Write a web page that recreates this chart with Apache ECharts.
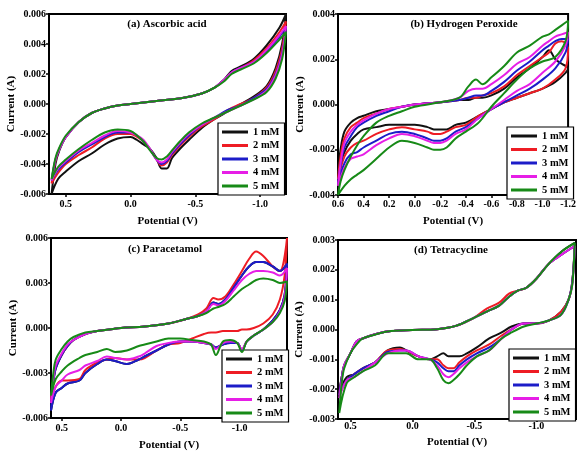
<!DOCTYPE html>
<html><head><meta charset="utf-8">
<script src="https://cdn.jsdelivr.net/npm/echarts@6/dist/echarts.min.js"></script>
<style>html,body{margin:0;padding:0;background:#fff}#c{width:579px;height:452px}</style>
</head><body><div id="c"></div>
<script>
// ---------- DATA ----------
const concentrations = ['1 mM', '2 mM', '3 mM', '4 mM', '5 mM'];
const panelTitles = ['(a) Ascorbic acid', '(b) Hydrogen Peroxide', '(c) Paracetamol', '(d) Tetracycline'];

// tick labels
const aXTicks = [0.5, 0.0, -0.5, -1.0];
const aYTicks = [-0.006, -0.004, -0.002, 0.000, 0.002, 0.004, 0.006];
const bXTicks = [0.6, 0.4, 0.2, 0.0, -0.2, -0.4, -0.6, -0.8, -1.0, -1.2];
const bYTicks = [-0.004, -0.002, 0.000, 0.002, 0.004];
const cXTicks = [0.5, 0.0, -0.5, -1.0];
const cYTicks = [-0.006, -0.003, 0.000, 0.003, 0.006];
const dXTicks = [0.5, 0.0, -0.5, -1.0];
const dYTicks = [-0.003, -0.002, -0.001, 0.000, 0.001, 0.002, 0.003];

// (a) Ascorbic acid — potential (V) along the closed CV loop
const aPotential = [0.61, 0.58, 0.55, 0.5, 0.4, 0.3, 0.2, 0.1, 0.0, -0.2, -0.4, -0.55, -0.65, -0.72, -0.78, -0.85, -0.95, -1.05, -1.15, -1.2,
  -1.17, -1.12, -1.05, -0.95, -0.85, -0.75, -0.65, -0.55, -0.45, -0.38, -0.32, -0.28, -0.24, -0.2, -0.15, -0.1, -0.05, 0.0, 0.1, 0.2, 0.3, 0.4, 0.5, 0.56, 0.61];
const aCurrent1mM = [-0.0060, -0.0040, -0.0031, -0.0022, -0.0012, -0.0006, -0.0003, -0.0001, 0.0000, 0.0002, 0.0004, 0.0007, 0.0011, 0.0016, 0.0022, 0.0025, 0.0030, 0.0039, 0.0051, 0.0060,
  0.0040, 0.0024, 0.0012, 0.0005, 0.0000, -0.0005, -0.0010, -0.0016, -0.0024, -0.0030, -0.0036, -0.0043, -0.0043, -0.0036, -0.0030, -0.0027, -0.0024, -0.0022, -0.0023, -0.0027, -0.0033, -0.0038, -0.0045, -0.0050, -0.0060];
const aCurrent2mM = [-0.0053, -0.0038, -0.0030, -0.0022, -0.0012, -0.0006, -0.0003, -0.0001, 0.0000, 0.0002, 0.0004, 0.0007, 0.0011, 0.0016, 0.0021, 0.0024, 0.0029, 0.0037, 0.0048, 0.0055,
  0.0037, 0.0022, 0.0011, 0.0004, 0.0000, -0.0004, -0.0010, -0.0015, -0.0022, -0.0028, -0.0034, -0.0039, -0.0041, -0.0037, -0.0030, -0.0025, -0.0022, -0.0020, -0.0020, -0.0023, -0.0029, -0.0034, -0.0040, -0.0046, -0.0053];
const aCurrent3mM = [-0.0051, -0.0037, -0.0030, -0.0022, -0.0012, -0.0006, -0.0003, -0.0001, 0.0000, 0.0002, 0.0004, 0.0007, 0.0011, 0.0016, 0.0021, 0.0024, 0.0028, 0.0035, 0.0045, 0.0051,
  0.0034, 0.0020, 0.0010, 0.0004, -0.0001, -0.0004, -0.0009, -0.0014, -0.0021, -0.0027, -0.0033, -0.0038, -0.0040, -0.0037, -0.0030, -0.0025, -0.0021, -0.0019, -0.0019, -0.0022, -0.0027, -0.0032, -0.0039, -0.0044, -0.0051];
const aCurrent4mM = [-0.0051, -0.0037, -0.0030, -0.0022, -0.0012, -0.0006, -0.0003, -0.0001, 0.0000, 0.0002, 0.0004, 0.0007, 0.0011, 0.0016, 0.0021, 0.0024, 0.0028, 0.0036, 0.0046, 0.0052,
  0.0033, 0.0019, 0.0009, 0.0003, -0.0001, -0.0005, -0.0009, -0.0014, -0.0020, -0.0026, -0.0032, -0.0037, -0.0039, -0.0037, -0.0030, -0.0024, -0.0021, -0.0019, -0.0018, -0.0021, -0.0026, -0.0031, -0.0038, -0.0043, -0.0051];
const aCurrent5mM = [-0.0050, -0.0036, -0.0029, -0.0021, -0.0012, -0.0006, -0.0003, -0.0001, 0.0000, 0.0002, 0.0004, 0.0007, 0.0011, 0.0015, 0.0020, 0.0023, 0.0027, 0.0034, 0.0043, 0.0048,
  0.0030, 0.0017, 0.0008, 0.0003, -0.0001, -0.0005, -0.0009, -0.0013, -0.0019, -0.0025, -0.0031, -0.0035, -0.0037, -0.0036, -0.0031, -0.0025, -0.0021, -0.0018, -0.0017, -0.0019, -0.0024, -0.0030, -0.0037, -0.0042, -0.0050];

// (b) Hydrogen Peroxide
const bPotential = [0.6, 0.58, 0.55, 0.5, 0.45, 0.4, 0.3, 0.2, 0.1, 0.0, -0.2, -0.35, -0.42, -0.48, -0.53, -0.6, -0.7, -0.8, -0.9, -1.0, -1.05, -1.1, -1.15, -1.2,
  -1.18, -1.1, -1.0, -0.9, -0.8, -0.7, -0.6, -0.5, -0.4, -0.32, -0.25, -0.2, -0.15, -0.1, 0.0, 0.1, 0.2, 0.3, 0.4, 0.45, 0.5, 0.55, 0.6];
const bCurrent1mM = [-0.0030, -0.0020, -0.0012, -0.0008, -0.0006, -0.0005, -0.0003, -0.0002, -0.0001, 0.0000, 0.0001, 0.0002, 0.0002, 0.0003, 0.0003, 0.0004, 0.0007, 0.0012, 0.0016, 0.0021, 0.0024, 0.0020, 0.0018, 0.0016,
  0.0014, 0.0010, 0.0007, 0.0005, 0.0003, 0.0001, -0.0002, -0.0005, -0.0008, -0.0009, -0.0011, -0.0011, -0.0011, -0.0010, -0.0009, -0.0009, -0.0009, -0.0010, -0.0011, -0.0013, -0.0016, -0.0021, -0.0030];
const bCurrent2mM = [-0.0033, -0.0023, -0.0015, -0.0010, -0.0008, -0.0006, -0.0004, -0.0002, -0.0001, 0.0000, 0.0001, 0.0002, 0.0003, 0.0003, 0.0004, 0.0005, 0.0008, 0.0013, 0.0017, 0.0021, 0.0023, 0.0027, 0.0028, 0.0025,
  0.0016, 0.0011, 0.0007, 0.0005, 0.0003, 0.0001, -0.0002, -0.0005, -0.0009, -0.0010, -0.0012, -0.0013, -0.0013, -0.0012, -0.0011, -0.0010, -0.0011, -0.0013, -0.0016, -0.0017, -0.0019, -0.0023, -0.0033];
const bCurrent3mM = [-0.0035, -0.0027, -0.0019, -0.0014, -0.0010, -0.0008, -0.0005, -0.0003, -0.0001, 0.0000, 0.0001, 0.0002, 0.0003, 0.0004, 0.0004, 0.0006, 0.0010, 0.0015, 0.0019, 0.0024, 0.0026, 0.0028, 0.0029, 0.0029,
  0.0023, 0.0016, 0.0011, 0.0007, 0.0004, 0.0001, -0.0002, -0.0006, -0.0010, -0.0012, -0.0015, -0.0016, -0.0016, -0.0015, -0.0013, -0.0012, -0.0013, -0.0016, -0.0019, -0.0021, -0.0022, -0.0026, -0.0035];
const bCurrent4mM = [-0.0036, -0.0026, -0.0017, -0.0012, -0.0009, -0.0007, -0.0004, -0.0002, -0.0001, 0.0000, 0.0001, 0.0003, 0.0006, 0.0007, 0.0007, 0.0009, 0.0013, 0.0018, 0.0021, 0.0026, 0.0028, 0.0030, 0.0031, 0.0032,
  0.0026, 0.0019, 0.0014, 0.0009, 0.0006, 0.0002, -0.0002, -0.0006, -0.0011, -0.0013, -0.0016, -0.0017, -0.0017, -0.0016, -0.0014, -0.0013, -0.0015, -0.0018, -0.0022, -0.0023, -0.0024, -0.0028, -0.0036];
const bCurrent5mM = [-0.0040, -0.0034, -0.0029, -0.0023, -0.0018, -0.0014, -0.0008, -0.0005, -0.0003, -0.0001, 0.0001, 0.0003, 0.0008, 0.0011, 0.0009, 0.0012, 0.0017, 0.0023, 0.0026, 0.0030, 0.0031, 0.0033, 0.0035, 0.0037,
  0.0028, 0.0021, 0.0019, 0.0016, 0.0011, 0.0005, -0.0001, -0.0008, -0.0012, -0.0015, -0.0019, -0.0020, -0.0020, -0.0019, -0.0017, -0.0016, -0.0019, -0.0024, -0.0029, -0.0031, -0.0033, -0.0036, -0.0040];

// (c) Paracetamol
const cPotential = [0.59, 0.57, 0.55, 0.5, 0.45, 0.4, 0.3, 0.2, 0.1, 0.0, -0.2, -0.4, -0.55, -0.65, -0.72, -0.78, -0.82, -0.88, -0.95, -1.02, -1.08, -1.14, -1.2, -1.28, -1.34, -1.4,
  -1.38, -1.34, -1.28, -1.2, -1.12, -1.06, -1.02, -0.98, -0.92, -0.86, -0.8, -0.76, -0.7, -0.6, -0.5, -0.4, -0.3, -0.2, -0.15, -0.05, 0.05, 0.12, 0.2, 0.3, 0.35, 0.45, 0.5, 0.55, 0.59];
const cCurrent1mM = [-0.0055, -0.0036, -0.0027, -0.0018, -0.0012, -0.0008, -0.0004, -0.0002, -0.0001, 0.0000, 0.0001, 0.0003, 0.0006, 0.0008, 0.0011, 0.0017, 0.0016, 0.0019, 0.0027, 0.0035, 0.0041, 0.0044, 0.0044, 0.0041, 0.0038, 0.0043,
  0.0022, 0.0012, 0.0005, -0.0001, -0.0005, -0.0009, -0.0015, -0.0010, -0.0010, -0.0011, -0.0013, -0.0011, -0.0010, -0.0009, -0.0009, -0.0011, -0.0015, -0.0019, -0.0021, -0.0024, -0.0022, -0.0021, -0.0024, -0.0030, -0.0035, -0.0037, -0.0040, -0.0043, -0.0055];
const cCurrent2mM = [-0.0048, -0.0034, -0.0026, -0.0018, -0.0012, -0.0008, -0.0004, -0.0002, -0.0001, 0.0000, 0.0001, 0.0003, 0.0006, 0.0009, 0.0013, 0.0020, 0.0019, 0.0021, 0.0029, 0.0038, 0.0046, 0.0051, 0.0048, 0.0041, 0.0038, 0.0060,
  0.0035, 0.0019, 0.0009, 0.0003, 0.0000, -0.0001, -0.0001, -0.0002, -0.0002, -0.0002, -0.0003, -0.0003, -0.0004, -0.0007, -0.0010, -0.0011, -0.0015, -0.0020, -0.0021, -0.0021, -0.0020, -0.0021, -0.0023, -0.0028, -0.0034, -0.0035, -0.0035, -0.0039, -0.0048];
const cCurrent3mM = [-0.0055, -0.0036, -0.0027, -0.0018, -0.0012, -0.0008, -0.0004, -0.0002, -0.0001, 0.0000, 0.0001, 0.0003, 0.0006, 0.0008, 0.0011, 0.0017, 0.0016, 0.0019, 0.0027, 0.0035, 0.0041, 0.0044, 0.0044, 0.0041, 0.0038, 0.0043,
  0.0022, 0.0012, 0.0005, -0.0001, -0.0005, -0.0009, -0.0015, -0.0010, -0.0010, -0.0011, -0.0013, -0.0011, -0.0010, -0.0009, -0.0009, -0.0011, -0.0015, -0.0019, -0.0021, -0.0024, -0.0022, -0.0021, -0.0024, -0.0030, -0.0035, -0.0037, -0.0040, -0.0043, -0.0055];
const cCurrent4mM = [-0.0050, -0.0034, -0.0025, -0.0017, -0.0011, -0.0008, -0.0004, -0.0002, -0.0001, 0.0000, 0.0001, 0.0003, 0.0006, 0.0008, 0.0011, 0.0016, 0.0015, 0.0018, 0.0025, 0.0032, 0.0036, 0.0038, 0.0038, 0.0037, 0.0035, 0.0040,
  0.0020, 0.0011, 0.0004, -0.0001, -0.0005, -0.0009, -0.0014, -0.0010, -0.0009, -0.0010, -0.0014, -0.0011, -0.0010, -0.0009, -0.0009, -0.0010, -0.0012, -0.0017, -0.0019, -0.0021, -0.0020, -0.0019, -0.0022, -0.0025, -0.0028, -0.0031, -0.0035, -0.0039, -0.0050];
const cCurrent5mM = [-0.0045, -0.0030, -0.0021, -0.0014, -0.0009, -0.0006, -0.0003, -0.0002, -0.0001, 0.0000, 0.0001, 0.0003, 0.0006, 0.0008, 0.0010, 0.0013, 0.0014, 0.0016, 0.0021, 0.0026, 0.0029, 0.0032, 0.0033, 0.0032, 0.0030, 0.0031,
  0.0018, 0.0010, 0.0004, -0.0001, -0.0005, -0.0009, -0.0016, -0.0010, -0.0008, -0.0009, -0.0018, -0.0011, -0.0009, -0.0008, -0.0007, -0.0007, -0.0009, -0.0011, -0.0012, -0.0015, -0.0016, -0.0014, -0.0016, -0.0018, -0.0020, -0.0025, -0.0029, -0.0034, -0.0045];

// (d) Tetracycline
const dPotential = [0.59, 0.57, 0.55, 0.5, 0.45, 0.4, 0.3, 0.2, 0.0, -0.2, -0.35, -0.5, -0.6, -0.7, -0.78, -0.85, -0.92, -1.0, -1.1, -1.2, -1.31,
  -1.29, -1.26, -1.2, -1.1, -1.0, -0.9, -0.8, -0.72, -0.62, -0.52, -0.44, -0.38, -0.33, -0.29, -0.25, -0.2, -0.14, -0.05, 0.05, 0.1, 0.2, 0.3, 0.4, 0.47, 0.53, 0.59];
const dCurrent1mM = [-0.0021, -0.0016, -0.0012, -0.0008, -0.0004, -0.0003, -0.00016, -0.00007, -0.00002, 0.00001, 0.00012, 0.0004, 0.0006, 0.0008, 0.0011, 0.0013, 0.0014, 0.0017, 0.0022, 0.0026, 0.0029,
  0.0016, 0.0010, 0.0006, 0.0003, 0.0002, 0.0002, 0.0001, -0.0001, -0.0003, -0.0006, -0.0008, -0.0009, -0.0009, -0.0009, -0.0008, -0.0009, -0.0010, -0.0009, -0.0007, -0.0006, -0.0007, -0.0011, -0.0013, -0.0015, -0.0016, -0.0021];
const dCurrent2mM = [-0.0022, -0.0016, -0.0012, -0.0008, -0.0004, -0.0003, -0.00016, -0.00007, -0.00002, 0.00001, 0.00012, 0.0004, 0.0007, 0.0009, 0.0012, 0.0013, 0.0014, 0.0017, 0.0022, 0.0025, 0.0028,
  0.0016, 0.0010, 0.0006, 0.0003, 0.0002, 0.0002, 0.0000, -0.0002, -0.0005, -0.0007, -0.0009, -0.0011, -0.0013, -0.0013, -0.0012, -0.0010, -0.0010, -0.0009, -0.0007, -0.00065, -0.0007, -0.0011, -0.0013, -0.0015, -0.0017, -0.0022];
const dCurrent3mM = [-0.0022, -0.0016, -0.0012, -0.0008, -0.0004, -0.0003, -0.00016, -0.00007, -0.00002, 0.00001, 0.00012, 0.0004, 0.0006, 0.0008, 0.0011, 0.0013, 0.0014, 0.0017, 0.0022, 0.0025, 0.0028,
  0.0016, 0.0010, 0.0005, 0.0003, 0.0002, 0.0002, 0.0000, -0.0003, -0.0006, -0.0008, -0.0010, -0.0012, -0.0014, -0.0014, -0.0013, -0.0011, -0.0010, -0.0009, -0.0007, -0.0007, -0.00075, -0.0011, -0.0013, -0.0015, -0.0017, -0.0022];
const dCurrent4mM = [-0.0023, -0.0017, -0.0012, -0.0008, -0.0004, -0.0003, -0.00016, -0.00007, -0.00002, 0.00001, 0.00012, 0.0004, 0.0006, 0.0008, 0.0011, 0.0013, 0.0014, 0.0017, 0.0022, 0.0025, 0.0028,
  0.0015, 0.0010, 0.0005, 0.0003, 0.0002, 0.0002, 0.0000, -0.0003, -0.0007, -0.0009, -0.0011, -0.0013, -0.0015, -0.0016, -0.0015, -0.0012, -0.0010, -0.0009, -0.0007, -0.0007, -0.0008, -0.0011, -0.0014, -0.0016, -0.0017, -0.0023];
const dCurrent5mM = [-0.0028, -0.0018, -0.0013, -0.0008, -0.0005, -0.0003, -0.00017, -0.00007, -0.00002, 0.00001, 0.00012, 0.0004, 0.0006, 0.0008, 0.0011, 0.0013, 0.0014, 0.0017, 0.0022, 0.0026, 0.0029,
  0.0015, 0.0010, 0.0005, 0.0003, 0.0002, 0.0001, -0.0001, -0.0003, -0.0007, -0.0009, -0.0012, -0.0015, -0.0017, -0.0018, -0.0017, -0.0013, -0.0010, -0.0010, -0.0008, -0.0008, -0.0008, -0.0012, -0.0014, -0.0016, -0.0018, -0.0028];

// ---------- STYLE / LAYOUT ----------
const lineColors = ['#111111', '#ee1c24', '#1c1cc8', '#e61ee6', '#178a17'];
const FONT = '"Liberation Serif","Times New Roman",serif';

const panels = [
  { pot: aPotential, cur: [aCurrent1mM, aCurrent2mM, aCurrent3mM, aCurrent4mM, aCurrent5mM],
    xTicks: aXTicks, yTicks: aYTicks, xmin: -1.2, xmax: 0.63, ymin: -0.006, ymax: 0.006,
    grid: { left: 49, top: 14, width: 237, height: 180 }, xGap: 22, yGap: 29, xMargin: 5,
    title: { x: 167, y: 24 }, legend: { left: 218, top: 123 } },
  { pot: bPotential, cur: [bCurrent1mM, bCurrent2mM, bCurrent3mM, bCurrent4mM, bCurrent5mM],
    xTicks: bXTicks, yTicks: bYTicks, xmin: -1.2, xmax: 0.6, ymin: -0.004, ymax: 0.004,
    grid: { left: 338, top: 14, width: 234, height: 181 }, xGap: 21, yGap: 30, xMargin: 4,
    title: { x: 464, y: 24 }, legend: { left: 507, top: 127 } },
  { pot: cPotential, cur: [cCurrent1mM, cCurrent2mM, cCurrent3mM, cCurrent4mM, cCurrent5mM],
    xTicks: cXTicks, yTicks: cYTicks, xmin: -1.4, xmax: 0.59, ymin: -0.006, ymax: 0.006,
    grid: { left: 51, top: 238, width: 236, height: 181 }, xGap: 22, yGap: 31, xMargin: 5,
    title: { x: 165, y: 249 }, legend: { left: 222, top: 350 } },
  { pot: dPotential, cur: [dCurrent1mM, dCurrent2mM, dCurrent3mM, dCurrent4mM, dCurrent5mM],
    xTicks: dXTicks, yTicks: dYTicks, xmin: -1.32, xmax: 0.6, ymin: -0.003, ymax: 0.003,
    grid: { left: 338, top: 240, width: 238, height: 179 }, xGap: 18, yGap: 33, xMargin: 2,
    title: { x: 451, y: 250 }, legend: { left: 509, top: 349 } }
];

const labelStyle = { fontFamily: FONT, fontWeight: 'bold', fontSize: 10, color: '#000' };
const nameStyle = { fontFamily: FONT, fontWeight: 'bold', fontSize: 11, color: '#000' };

const grids = [], xAxes = [], yAxes = [], series = [], legends = [], graphics = [];
panels.forEach((p, i) => {
  grids.push(Object.assign({ show: true, borderColor: '#000', borderWidth: 2, backgroundColor: '#fff', containLabel: false }, p.grid));
  xAxes.push({
    type: 'value', gridIndex: i, inverse: true, min: p.xmin, max: p.xmax,
    name: 'Potential (V)', nameLocation: 'middle', nameGap: p.xGap, nameTextStyle: nameStyle,
    axisLine: { onZero: false, lineStyle: { color: '#000', width: 2 } },
    axisTick: { show: true, length: 3, customValues: p.xTicks, lineStyle: { color: '#000', width: 1.5 } },
    axisLabel: Object.assign({ customValues: p.xTicks, margin: p.xMargin, formatter: v => (Math.abs(v) < 1e-9 ? 0 : v).toFixed(1) }, labelStyle),
    splitLine: { show: false }
  });
  yAxes.push({
    type: 'value', gridIndex: i, min: p.ymin, max: p.ymax,
    name: 'Current (A)', nameLocation: 'middle', nameGap: p.yGap, nameRotate: 90, nameTextStyle: nameStyle,
    axisLine: { onZero: false, lineStyle: { color: '#000', width: 2 } },
    axisTick: { show: true, length: 3, customValues: p.yTicks, lineStyle: { color: '#000', width: 1.5 } },
    axisLabel: Object.assign({ customValues: p.yTicks, margin: 3, formatter: v => (Math.abs(v) < 1e-12 ? 0 : v).toFixed(3) }, labelStyle),
    splitLine: { show: false }
  });
  p.cur.forEach((cur, k) => {
    series.push({
      type: 'line', name: concentrations[k], xAxisIndex: i, yAxisIndex: i,
      data: p.pot.map((v, j) => [v, cur[j]]),
      showSymbol: false, symbol: 'none', smooth: 0.35, clip: true,
      lineStyle: { color: lineColors[k], width: 2 }, itemStyle: { color: lineColors[k] },
      z: 2 + k
    });
  });
  legends.push({
    data: concentrations, orient: 'vertical', left: p.legend.left, top: p.legend.top,
    icon: 'rect', itemWidth: 26, itemHeight: 3, itemGap: 1.5, padding: [3, 5, 3, 4],
    borderColor: '#000', borderWidth: 1.2, backgroundColor: '#fff', selectedMode: false,
    textStyle: { fontFamily: FONT, fontWeight: 'bold', fontSize: 10.5, color: '#000', lineHeight: 12 }
  });
  graphics.push({
    type: 'text', x: p.title.x, y: p.title.y, z: 100,
    style: { text: panelTitles[i], textAlign: 'center', textVerticalAlign: 'middle',
      font: 'bold 11px ' + FONT, fill: '#000' }
  });
});

const chart = echarts.init(document.getElementById('c'), null, { renderer: 'canvas' });
chart.setOption({
  animation: false, backgroundColor: '#fff',
  grid: grids, xAxis: xAxes, yAxis: yAxes, series: series, legend: legends, graphic: graphics
});
</script>
</body></html>
